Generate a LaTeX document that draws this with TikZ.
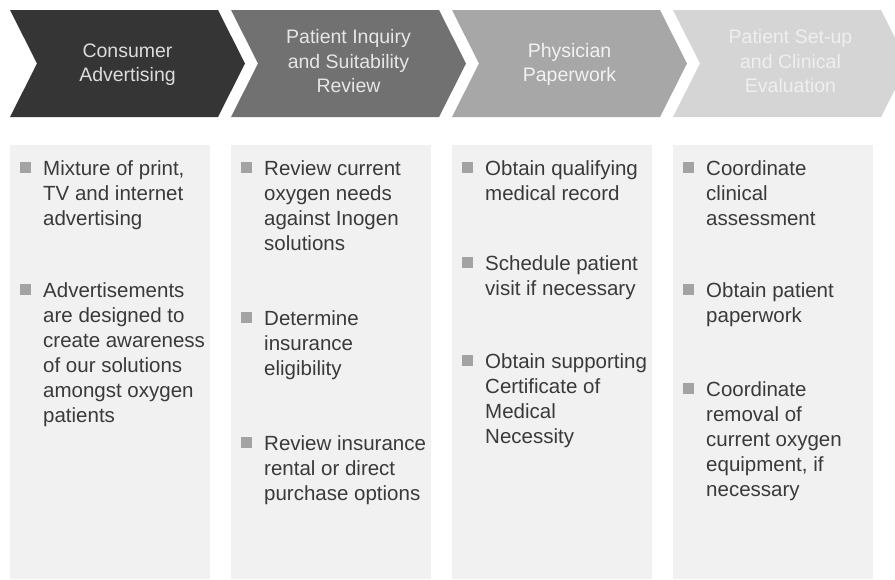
\documentclass[tikz,border=0pt]{standalone}
\usepackage{fontspec}
\setmainfont{Liberation Sans}
\definecolor{chA}{HTML}{353535}
\definecolor{chB}{HTML}{717171}
\definecolor{chC}{HTML}{A7A7A7}
\definecolor{chD}{HTML}{D5D5D5}
\definecolor{txA}{HTML}{DCDCDC}
\definecolor{txB}{HTML}{E6E6E6}
\definecolor{txC}{HTML}{F2F2F2}
\definecolor{txD}{HTML}{EFEFEF}
\definecolor{colfill}{HTML}{F1F1F1}
\definecolor{bulgrey}{HTML}{A3A3A3}
\definecolor{bodytext}{HTML}{3A3A3A}
\newcommand\chevronat[2]{%
  \fill[#2] (#1,10) -- (#1+208,10) -- (#1+235,63.5) -- (#1+208,117) -- (#1,117) -- (#1+27,63.5) -- cycle;
}
\newcommand\bulletitem[4]{%
  \fill[bulgrey] (#2+10,#3-13) rectangle ++(11,11);
  \node[btext] (#1) at (#2+33,#3) {\begin{tabular}[t]{@{}l@{}}#4\end{tabular}};
}
\begin{document}
\begin{tikzpicture}[x=1pt,y=-1pt,
  ctext/.style={anchor=base, inner sep=0pt, font=\fontsize{19.5}{24.5}\selectfont},
  btext/.style={anchor=base west, inner sep=0pt, text=bodytext, font=\fontsize{20.5}{25}\selectfont},
  colbox/.style={fill=colfill}]
\useasboundingbox (0,0) rectangle (895,579);
\clip (0,0) rectangle (895,579);
\fill[white] (0,0) rectangle (895,579);
% chevrons
\chevronat{10}{chA}
\chevronat{231}{chB}
\chevronat{452}{chC}
\chevronat{673}{chD}
\node[ctext, text=txA] (h1) at (10+117.5,57) {\begin{tabular}[t]{@{}c@{}}Consumer\\Advertising\end{tabular}};
\node[ctext, text=txB] (h2) at (231+117.5,43.5) {\begin{tabular}[t]{@{}c@{}}Patient Inquiry\\and Suitability\\Review\end{tabular}};
\node[ctext, text=txC] (h3) at (452+117.5,57) {\begin{tabular}[t]{@{}c@{}}Physician\\Paperwork\end{tabular}};
\node[ctext, text=txD] (h4) at (673+117.5,43.5) {\begin{tabular}[t]{@{}c@{}}Patient Set-up\\and Clinical\\Evaluation\end{tabular}};
% columns
\fill[colbox] (10,145) rectangle (210,579);
\fill[colbox] (231,145) rectangle (431,579);
\fill[colbox] (452,145) rectangle (652,579);
\fill[colbox] (673,145) rectangle (873,579);
% column 1
\bulletitem{a1}{10}{175}{Mixture of print,\\TV and internet\\advertising}
\bulletitem{a2}{10}{297}{Advertisements\\are designed to\\create awareness\\of our solutions\\amongst oxygen\\patients}
% column 2
\bulletitem{b1}{231}{175}{Review current\\oxygen needs\\against Inogen\\solutions}
\bulletitem{b2}{231}{325}{Determine\\insurance\\eligibility}
\bulletitem{b3}{231}{450}{Review insurance\\rental or direct\\purchase options}
% column 3
\bulletitem{c1}{452}{175}{Obtain qualifying\\medical record}
\bulletitem{c2}{452}{270}{Schedule patient\\visit if necessary}
\bulletitem{c3}{452}{368}{Obtain supporting\\Certificate of\\Medical\\Necessity}
% column 4
\bulletitem{d1}{673}{175}{Coordinate\\clinical\\assessment}
\bulletitem{d2}{673}{297}{Obtain patient\\paperwork}
\bulletitem{d3}{673}{396}{Coordinate\\removal of\\current oxygen\\equipment, if\\necessary}
\end{tikzpicture}
\end{document}
